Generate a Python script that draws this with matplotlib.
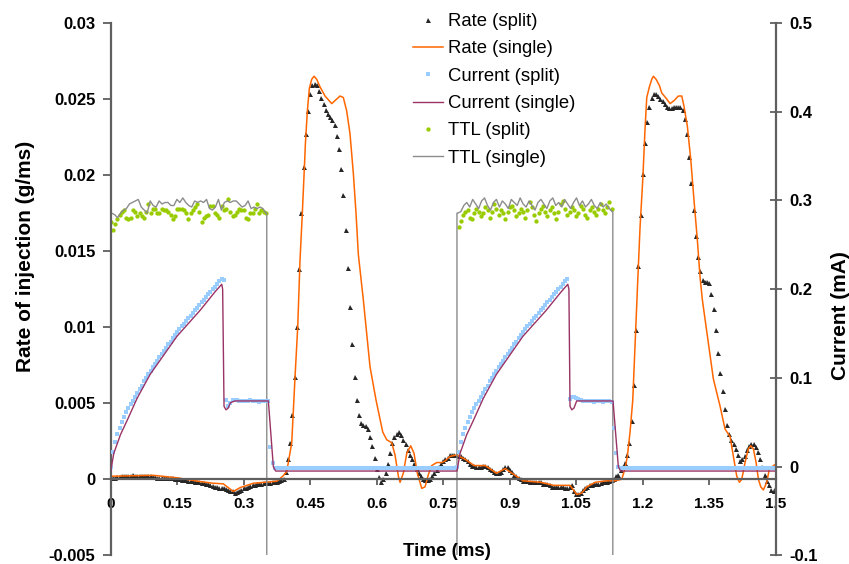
import numpy as np
import matplotlib
matplotlib.use('Agg')
import matplotlib.pyplot as plt

plt.rcParams['font.family'] = ['Liberation Sans', 'DejaVu Sans']

# split measurements are sampled every 0.005 ms from 0 to 1.5 ms
t_split = np.round(np.arange(301) * 0.005, 3)

rate_split = [
    0.0001, 0.0001, 0.0001, 0.00015, 0.00015, 0.0002, 0.0002, 0.0002, 0.0002, 0.0002,
    0.00025, 0.0002, 0.0002, 0.0002, 0.0002, 0.0002, 0.0002, 0.0002, 0.0002, 0.00015,
    0.00015, 0.0001, 0.0001, 0.0001, 0.0001, 0.0001, 0.0001, 0.00008, 0.00006, 0.00005,
    0.00005, 0.0, -0.00002, -0.00005, -0.00007, -0.0001, -0.0001, -0.00013, -0.00016, -0.0002,
    -0.0002, -0.00024, -0.00027, -0.0003, -0.00033, -0.0004, -0.00043, -0.0005, -0.0005, -0.00055,
    -0.0006, -0.0006, -0.00065, -0.0007, -0.00075, -0.0008, -0.0009, -0.00085, -0.00075, -0.0007,
    -0.0006, -0.00055, -0.0005, -0.00045, -0.0004, -0.00035, -0.00032, -0.0003, -0.00028, -0.00027,
    -0.00026, -0.00024, -0.00022, -0.0002, -0.00019, -0.00018, -0.00012, -0.00005, 0.00005, 0.0005,
    0.0013, 0.0024, 0.0042, 0.0067, 0.01, 0.0138, 0.0175, 0.0205, 0.0227, 0.0242,
    0.0253, 0.0259, 0.026, 0.0259, 0.0255, 0.0251, 0.0247, 0.0243, 0.024, 0.0238,
    0.0236, 0.0233, 0.0226, 0.0217, 0.0204, 0.0187, 0.0164, 0.0139, 0.0113, 0.0089,
    0.0067, 0.0052, 0.0042, 0.0037, 0.0036, 0.0035, 0.0033, 0.0028, 0.0022, 0.0014,
    0.0007, 0.00015, -0.00015, 0.0, 0.0004, 0.001, 0.0017, 0.0024, 0.0028, 0.003,
    0.0031, 0.0029, 0.0026, 0.0023, 0.0019, 0.0016, 0.0013, 0.001, 0.0007, 0.0004,
    0.0002, 0.00005, -0.00003, -0.00003, 0.00005, 0.0002, 0.0004, 0.0006, 0.0008, 0.001,
    0.0012, 0.0013, 0.0014, 0.0016, 0.0016, 0.0016, 0.0016, 0.0015, 0.0015, 0.0014,
    0.0013, 0.0012, 0.001, 0.0009, 0.0009, 0.0008, 0.0008, 0.0008, 0.0009, 0.0009,
    0.0008, 0.0007, 0.0006, 0.0005, 0.0004, 0.0004, 0.0005, 0.0007, 0.0008, 0.0008,
    0.0006, 0.0005, 0.0003, 0.0002, 0.0001, 0.0, -0.0001, -0.0001, -0.0001, -0.0002,
    -0.0002, -0.0002, -0.0002, -0.0002, -0.0002, -0.0003, -0.0003, -0.0003, -0.0004, -0.0005,
    -0.0005, -0.0005, -0.0005, -0.0005, -0.0005, -0.0006, -0.0006, -0.0005, -0.0004, -0.0008,
    -0.001, -0.001, -0.0009, -0.0007, -0.0006, -0.0005, -0.0004, -0.0004, -0.0003, -0.0003,
    -0.0003, -0.00025, -0.0002, -0.0002, -0.00015, -0.0001, -0.00005, 0.00005, 0.0002, 0.0003,
    0.0006, 0.0008, 0.0011, 0.0016, 0.0024, 0.0038, 0.0062, 0.0098, 0.014, 0.0174,
    0.0201, 0.0221, 0.0235, 0.0245, 0.0251, 0.0253, 0.0253, 0.0252, 0.025, 0.0249,
    0.0247, 0.0245, 0.0244, 0.0244, 0.0245, 0.0245, 0.0245, 0.0245, 0.0243, 0.0237,
    0.0227, 0.0212, 0.0195, 0.0177, 0.016, 0.0146, 0.0137, 0.0131, 0.013, 0.013,
    0.0129, 0.0122, 0.0112, 0.0098, 0.0083, 0.007, 0.0058, 0.0046, 0.0036, 0.003,
    0.0026, 0.0023, 0.002, 0.0016, 0.0012, 0.0013, 0.0015, 0.0019, 0.0022, 0.0023,
    0.0023, 0.0021, 0.0018, 0.0013, 0.0008, 0.0003, -0.0001, -0.0004, -0.0007, -0.0008,
    -0.0005,
]

rate_single_t = [
    0, 0.096, 0.149, 0.2014, 0.2314, 0.254, 0.2766, 0.2917, 0.3217, 0.3745,
    0.388, 0.397, 0.4083, 0.4157, 0.4218, 0.427, 0.4322, 0.4376, 0.439, 0.4435,
    0.448, 0.4534, 0.4586, 0.4647, 0.4721, 0.4834, 0.4985, 0.506, 0.5173, 0.5247,
    0.5324, 0.5398, 0.5473, 0.5533, 0.5585, 0.5698, 0.5811, 0.5849, 0.5985, 0.6136,
    0.6226, 0.6339, 0.6413, 0.6488, 0.6526, 0.66, 0.6677, 0.6767, 0.6842, 0.6916,
    0.7016, 0.709, 0.7164, 0.7241, 0.7354, 0.7467, 0.7541, 0.765, 0.78, 0.8,
    0.82, 0.845, 0.87, 0.89, 0.91, 0.93, 0.97, 1.0, 1.0361, 1.0512,
    1.0625, 1.0738, 1.0925, 1.1189, 1.1376, 1.1527, 1.1601, 1.1653, 1.1714, 1.1775,
    1.1888, 1.194, 1.2001, 1.2053, 1.2091, 1.215, 1.2204, 1.224, 1.2301, 1.2375,
    1.2429, 1.2542, 1.2617, 1.2707, 1.2804, 1.2881, 1.2933, 1.3007, 1.3084, 1.3158,
    1.3233, 1.3293, 1.3345, 1.3593, 1.3745, 1.3857, 1.397, 1.4045, 1.4121, 1.418,
    1.4234, 1.4308, 1.4383, 1.4437, 1.4496, 1.4557, 1.4609, 1.4663, 1.4721, 1.4798,
    1.4857, 1.5,
]
rate_single = [
    0.0002, 0.00026, 0.0001, -0.00015, -0.00026, -0.0003, -0.0008, -0.00055, -0.00026, -0.00013,
    0.0002, 0.0005, 0.0024, 0.0067, 0.01, 0.0144, 0.0175, 0.021, 0.022, 0.0242,
    0.0257, 0.0263, 0.0265, 0.0263, 0.0258, 0.0252, 0.0247, 0.0249, 0.0252, 0.0251,
    0.0242, 0.0227, 0.0201, 0.0175, 0.0148, 0.0118, 0.0085, 0.0074, 0.0052, 0.0031,
    0.0026, 0.0024, 0.0016, 0.0002, -0.0002, 0.0004, 0.0017, 0.0022, 0.0017, 0.0004,
    -0.0006, -0.0005, 0.0003, 0.0009, 0.0011, 0.0011, 0.0012, 0.0015, 0.0016, 0.0013,
    0.0009, 0.0009, 0.0004, 0.0007, 0.0003, -0.0001, -0.0002, -0.0004, -0.0004, -0.001,
    -0.0009, -0.0005, -0.0002, -0.0001, -0.0001, 0.0, 0.0007, 0.0015, 0.0031, 0.0052,
    0.0131, 0.0166, 0.0197, 0.0231, 0.0251, 0.0258, 0.0263, 0.0265, 0.0263, 0.0259,
    0.0254, 0.025, 0.0247, 0.0249, 0.0252, 0.0252, 0.0245, 0.0232, 0.021, 0.0183,
    0.0157, 0.0133, 0.0118, 0.0066, 0.0048, 0.0033, 0.0028, 0.0015, 0.0002, -0.0002,
    0.0, 0.0011, 0.002, 0.0022, 0.002, 0.0011, 0.0, -0.0005, -0.0007, -0.0002,
    0.0007, 0.001,
]

current_split = [
    0.0, 0.016, 0.028, 0.037, 0.044, 0.05, 0.056, 0.061, 0.066, 0.07,
    0.074, 0.079, 0.083, 0.087, 0.091, 0.096, 0.1, 0.104, 0.108, 0.112,
    0.116, 0.119, 0.123, 0.127, 0.13, 0.134, 0.138, 0.141, 0.145, 0.148,
    0.152, 0.155, 0.158, 0.161, 0.164, 0.167, 0.17, 0.173, 0.176, 0.179,
    0.182, 0.185, 0.188, 0.191, 0.194, 0.197, 0.2, 0.203, 0.206, 0.209,
    0.211, 0.21, 0.075, 0.068, 0.072, 0.075, 0.075, 0.075, 0.074, 0.074,
    0.074, 0.074, 0.074, 0.075, 0.074, 0.074, 0.074, 0.073, 0.074, 0.074,
    0.074, 0.074, 0.022, 0.004, -0.002, -0.002, -0.002, -0.002, -0.002, -0.002,
    -0.002, -0.002, -0.002, -0.002, -0.002, -0.002, -0.002, -0.002, -0.002, -0.002,
    -0.002, -0.002, -0.002, -0.002, -0.002, -0.002, -0.002, -0.002, -0.002, -0.002,
    -0.002, -0.002, -0.002, -0.002, -0.002, -0.002, -0.002, -0.002, -0.002, -0.002,
    -0.002, -0.002, -0.002, -0.002, -0.002, -0.002, -0.002, -0.002, -0.002, -0.002,
    -0.002, -0.002, -0.002, -0.002, -0.002, -0.002, -0.002, -0.002, -0.002, -0.002,
    -0.002, -0.002, -0.002, -0.002, -0.002, -0.002, -0.002, -0.002, -0.002, -0.002,
    -0.002, -0.002, -0.002, -0.002, -0.002, -0.002, -0.002, -0.002, -0.002, -0.002,
    -0.002, -0.002, -0.002, -0.002, -0.002, -0.002, 0.0, 0.016, 0.028, 0.037,
    0.044, 0.05, 0.056, 0.061, 0.066, 0.07, 0.074, 0.079, 0.083, 0.087,
    0.091, 0.096, 0.1, 0.104, 0.108, 0.112, 0.116, 0.119, 0.123, 0.127,
    0.13, 0.134, 0.138, 0.141, 0.145, 0.148, 0.152, 0.155, 0.158, 0.161,
    0.164, 0.167, 0.17, 0.173, 0.176, 0.179, 0.182, 0.185, 0.188, 0.191,
    0.194, 0.197, 0.2, 0.203, 0.206, 0.209, 0.211, 0.076, 0.079, 0.078,
    0.077, 0.076, 0.075, 0.074, 0.074, 0.074, 0.074, 0.074, 0.073, 0.074,
    0.074, 0.074, 0.073, 0.074, 0.074, 0.074, 0.073, 0.043, 0.015, -0.001,
    -0.002, -0.002, -0.002, -0.002, -0.002, -0.002, -0.002, -0.002, -0.002, -0.002,
    -0.002, -0.002, -0.002, -0.002, -0.002, -0.002, -0.002, -0.002, -0.002, -0.002,
    -0.002, -0.002, -0.002, -0.002, -0.002, -0.002, -0.002, -0.002, -0.002, -0.002,
    -0.002, -0.002, -0.002, -0.002, -0.002, -0.002, -0.002, -0.002, -0.002, -0.002,
    -0.002, -0.002, -0.002, -0.002, -0.002, -0.002, -0.002, -0.002, -0.002, -0.002,
    -0.002, -0.002, -0.002, -0.002, -0.002, -0.002, -0.002, -0.002, -0.002, -0.002,
    -0.002, -0.002, -0.002, -0.002, -0.002, -0.002, -0.002, -0.002, -0.002, -0.002,
    -0.002,
]

current_single_t = [
    0, 0.007, 0.022, 0.037, 0.0595, 0.089, 0.1496, 0.2014, 0.2353, 0.2504,
    0.2525, 0.2556, 0.26, 0.265, 0.27, 0.28, 0.3556, 0.3668, 0.372, 0.781,
    0.788, 0.803, 0.818, 0.8405, 0.87, 0.93, 0.982, 1.016, 1.031, 1.0335,
    1.036, 1.04, 1.045, 1.051, 1.133, 1.145, 1.15, 1.5,
]
current_single = [
    -0.005, 0.015, 0.036, 0.052, 0.077, 0.104, 0.147, 0.176, 0.197, 0.2055,
    0.2, 0.068, 0.064, 0.066, 0.072, 0.074, 0.074, 0.0, -0.005, -0.005,
    0.015, 0.036, 0.052, 0.077, 0.104, 0.147, 0.176, 0.197, 0.2055, 0.2,
    0.068, 0.064, 0.066, 0.074, 0.074, 0.0, -0.005, -0.005,
]

# TTL high windows (low level is below the visible range)
ttl_edges = [0.0, 0.352, 0.781, 1.1325]
ttl_low = -0.01

ttl_split_1 = [  # 0 .. 0.35 ms
    0.0169, 0.0164, 0.0168, 0.0171, 0.0174, 0.0176, 0.0177, 0.0172, 0.0171, 0.0172,
    0.0177, 0.0176, 0.0173, 0.0175, 0.0173, 0.0172, 0.0176, 0.0181, 0.0175, 0.0178,
    0.0178, 0.0175, 0.0175, 0.0178, 0.0177, 0.0177, 0.0176, 0.0174, 0.0171, 0.0173,
    0.0178, 0.0178, 0.0178, 0.0177, 0.0175, 0.0171, 0.0175, 0.0177, 0.0179, 0.0181,
    0.0176, 0.0169, 0.0172, 0.0173, 0.0174, 0.0180, 0.0180, 0.0175, 0.0174, 0.0172,
    0.0180, 0.0177, 0.0178, 0.0184, 0.0176, 0.0173, 0.0174, 0.0176, 0.0178, 0.0177,
    0.0177, 0.0172, 0.0171, 0.0175, 0.0175, 0.0178, 0.0181, 0.0175, 0.0177, 0.0176,
    0.0175,
]
ttl_split_2 = [  # 0.785 .. 1.13 ms
    0.0166, 0.0170, 0.0174, 0.0176, 0.0177, 0.0172, 0.0171, 0.0175, 0.0178, 0.0176,
    0.0173, 0.0175, 0.0179, 0.0177, 0.0172, 0.0176, 0.0181, 0.0178, 0.0174, 0.0177,
    0.0175, 0.0171, 0.0176, 0.0179, 0.0180, 0.0177, 0.0173, 0.0175, 0.0178, 0.0176,
    0.0172, 0.0177, 0.0182, 0.0179, 0.0174, 0.0170, 0.0175, 0.0178, 0.0180, 0.0176,
    0.0173, 0.0177, 0.0179, 0.0175, 0.0171, 0.0176, 0.0181, 0.0183, 0.0178, 0.0174,
    0.0176, 0.0179, 0.0177, 0.0173, 0.0175, 0.0180, 0.0178, 0.0174, 0.0172, 0.0177,
    0.0179, 0.0176, 0.0174, 0.0178, 0.0181, 0.0177, 0.0175, 0.0179, 0.0182, 0.0178,
]
ttl_single_1 = [
    0.0175, 0.0174, 0.0172, 0.0175, 0.0177, 0.0178, 0.0181, 0.0182, 0.0183, 0.0184,
    0.0179, 0.0177, 0.0175, 0.0183, 0.0180, 0.0179, 0.0183, 0.0181, 0.0182, 0.0182,
    0.0180, 0.0180, 0.0184, 0.0182, 0.0185, 0.0182, 0.0180, 0.0179, 0.0183, 0.0182,
    0.0183, 0.0182, 0.0184, 0.0178, 0.0177, 0.0179, 0.0184, 0.0177, 0.0182, 0.0183,
    0.0182, 0.0183, 0.0183, 0.0181, 0.0179, 0.0180, 0.0183, 0.0178, 0.0179, 0.0178,
    0.0179, 0.0178, 0.0175,
]
ttl_single_2 = [
    0.0175, 0.0176, 0.0180, 0.0182, 0.0179, 0.0184, 0.0181, 0.0178, 0.0183, 0.0185,
    0.0180, 0.0177, 0.0182, 0.0184, 0.0179, 0.0183, 0.0181, 0.0178, 0.0184, 0.0182,
    0.0180, 0.0185, 0.0181, 0.0179, 0.0183, 0.0180, 0.0177, 0.0182, 0.0184, 0.0181,
    0.0178, 0.0183, 0.0185, 0.0180, 0.0182, 0.0179, 0.0184, 0.0181, 0.0178, 0.0182,
    0.0185, 0.0180, 0.0183, 0.0179, 0.0181, 0.0184, 0.0180, 0.0178, 0.0182, 0.0179,
    0.0181, 0.0178, 0.0176,
]

x_ticks = [0, 0.15, 0.3, 0.45, 0.6, 0.75, 0.9, 1.05, 1.2, 1.35, 1.5]
x_labels = ['0', '0.15', '0.3', '0.45', '0.6', '0.75', '0.9', '1.05', '1.2', '1.35', '1.5']
left_ticks = [-0.005, 0, 0.005, 0.01, 0.015, 0.02, 0.025, 0.03]
left_labels = ['-0.005', '0', '0.005', '0.01', '0.015', '0.02', '0.025', '0.03']
right_ticks = [-0.1, 0, 0.1, 0.2, 0.3, 0.4, 0.5]
right_labels = ['-0.1', '0', '0.1', '0.2', '0.3', '0.4', '0.5']

# sample times for the TTL traces
t_ttl_split_1 = t_split[:71]
t_ttl_split_2 = t_split[157:227]
t_ttl_single_1 = np.linspace(0.002, 0.350, len(ttl_single_1))
t_ttl_single_2 = np.linspace(0.783, 1.131, len(ttl_single_2))

ttl_t = np.concatenate([[ttl_edges[0], ttl_edges[0]], t_ttl_single_1,
                        [ttl_edges[1], ttl_edges[1], ttl_edges[2], ttl_edges[2]],
                        t_ttl_single_2, [ttl_edges[3], ttl_edges[3], 1.5]])
ttl_v = np.concatenate([[ttl_low, ttl_single_1[0]], ttl_single_1,
                        [ttl_single_1[-1], ttl_low, ttl_low, ttl_single_2[0]],
                        ttl_single_2, [ttl_single_2[-1], ttl_low, ttl_low]])

fig = plt.figure(figsize=(8.49, 5.64), dpi=100)
ax = fig.add_axes([0.1304, 0.0154, 0.7833, 0.9438])
ax2 = ax.twinx()

h1, = ax.plot(t_split, rate_split, ls='none', marker='^', ms=3.6, mew=0,
              color='#262626', label='Rate (split)')
h2, = ax.plot(rate_single_t, rate_single, color='#ff6600', lw=1.1, label='Rate (single)')
h5, = ax.plot(t_ttl_split_1, ttl_split_1, ls='none', marker='o', ms=3.1, mew=0,
              color='#99cc00', label='TTL (split)')
ax.plot(t_ttl_split_2, ttl_split_2, ls='none', marker='o', ms=3.1, mew=0, color='#99cc00')
h6, = ax.plot(ttl_t, ttl_v, color='#8c8c8c', lw=1.0, label='TTL (single)')
h3, = ax2.plot(t_split, current_split, ls='none', marker='s', ms=2.2, mew=0,
               color='#99ccff', label='Current (split)')
h4, = ax2.plot(current_single_t, current_single, color='#993366', lw=1.0,
               label='Current (single)')

ax.set_xlim(0, 1.5)
ax.set_ylim(-0.005, 0.03)
ax2.set_ylim(-0.1, 0.5)

spine_col = '#5f5f5f'
ax.spines['top'].set_visible(False)
ax.spines['right'].set_visible(False)
ax.spines['bottom'].set_position(('data', 0))
ax.spines['bottom'].set_color(spine_col)
ax.spines['bottom'].set_linewidth(1.6)
ax.spines['left'].set_color(spine_col)
ax.spines['left'].set_linewidth(1.6)
for s in ['top', 'left', 'bottom']:
    ax2.spines[s].set_visible(False)
ax2.spines['right'].set_color(spine_col)
ax2.spines['right'].set_linewidth(1.6)

ax.set_xticks(x_ticks, x_labels)
ax.set_yticks(left_ticks, left_labels)
ax2.set_yticks(right_ticks, right_labels)
ax.tick_params(axis='x', direction='out', length=4, width=1.3, color=spine_col,
               pad=9, labelsize=11)
ax.tick_params(axis='y', direction='out', length=6, width=1.3, color=spine_col,
               pad=5, labelsize=12)
ax2.tick_params(axis='y', direction='inout', length=9, width=1.3, color=spine_col,
                pad=5, labelsize=12)
for lab in ax.get_xticklabels() + ax.get_yticklabels() + ax2.get_yticklabels():
    lab.set_fontweight('bold')

fig.text(26 / 849, 1 - 256 / 564, 'Rate of injection (g/ms)', rotation=90,
         ha='center', va='center', fontsize=15, fontweight='bold')
fig.text(841 / 849, 1 - 316 / 564, 'Current (mA)', rotation=90,
         ha='center', va='center', fontsize=15, fontweight='bold')
fig.text(447 / 849, 1 - 552 / 564, 'Time (ms)', ha='center', va='center',
         fontsize=13.5, fontweight='bold')

fig.legend([h1, h2, h3, h4, h5, h6],
           ['Rate (split)', 'Rate (single)', 'Current (split)', 'Current (single)',
            'TTL (split)', 'TTL (single)'],
           loc='upper left', bbox_to_anchor=(413 / 849, 1 - 13 / 564), frameon=False,
           fontsize=13.3, handlelength=1.6, handletextpad=0.3, labelspacing=0.56,
           borderpad=0, borderaxespad=0)

fig.savefig('out.png', dpi=100)
